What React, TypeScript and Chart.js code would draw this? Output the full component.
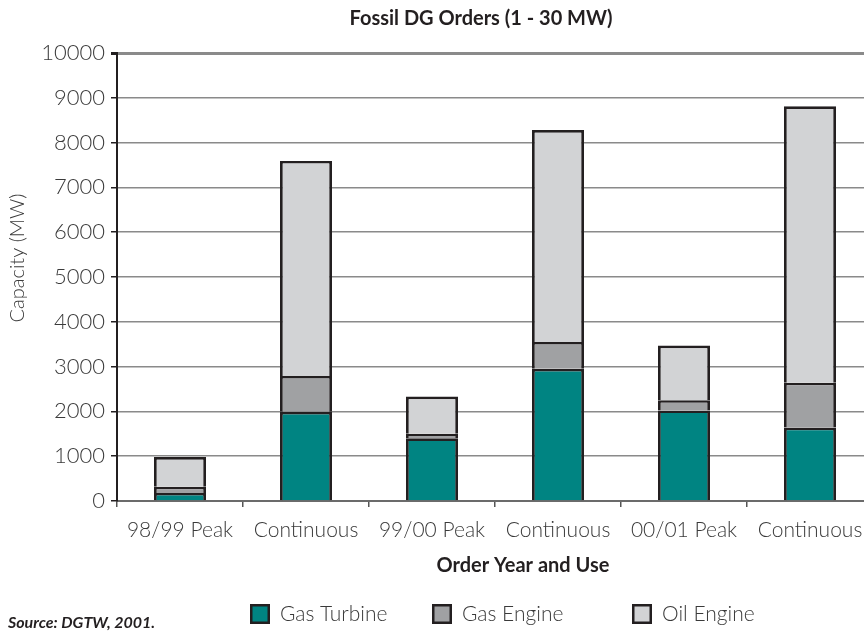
import React, { useEffect, useRef } from "react";
import { Chart, registerables } from "chart.js";

Chart.register(...registerables);

const categories = ["98/99 Peak", "Continuous", "99/00 Peak", "Continuous", "00/01 Peak", "Continuous"];
const gasTurbine = [180, 1990, 1400, 2950, 2020, 1640];
const gasEngine = [140, 800, 100, 600, 230, 1000];
const oilEngine = [660, 4800, 830, 4730, 1220, 6170];
const yTicks = [0, 1000, 2000, 3000, 4000, 5000, 6000, 7000, 8000, 9000, 10000];

const TEAL = "#008482";
const MID = "#a0a1a3";
const LIGHT = "#d2d3d5";
const EDGE = "#231f20";
const TXT = "#3a3a3a";
const FONT = "Lato, 'Open Sans', sans-serif";

const overlay = {
  id: "overlay",
  afterDraw(chart: any) {
    const ctx = chart.ctx;
    ctx.save();
    ctx.fillStyle = "#231f20";
    ctx.textBaseline = "middle";
    ctx.textAlign = "center";
    ctx.font = `bold 20px ${FONT}`;
    ctx.fillText("Fossil DG Orders (1 - 30 MW)", 481, 19);
    ctx.font = `bold 20px ${FONT}`;
    ctx.fillText("Order Year and Use", 523, 566);

    // y title
    ctx.save();
    ctx.translate(18, 258);
    ctx.rotate(-Math.PI / 2);
    ctx.fillStyle = TXT;
    ctx.font = `300 20px ${FONT}`;
    ctx.fillText("Capacity (MW)", 0, 0);
    ctx.restore();

    // legend
    const items = [
      { label: "Gas Turbine", color: TEAL, x: 250 },
      { label: "Gas Engine", color: MID, x: 432 },
      { label: "Oil Engine", color: LIGHT, x: 632 },
    ];
    ctx.textAlign = "left";
    ctx.font = `300 21px ${FONT}`;
    for (const it of items) {
      ctx.fillStyle = it.color;
      ctx.fillRect(it.x, 604, 20, 20);
      ctx.strokeStyle = EDGE;
      ctx.lineWidth = 2.5;
      ctx.strokeRect(it.x + 1.25, 605.25, 17.5, 17.5);
      ctx.fillStyle = TXT;
      ctx.fillText(it.label, it.x + 30, 614);
    }
    ctx.fillStyle = "#231f20";
    ctx.font = `italic bold 16px ${FONT}`;
    ctx.fillText("Source: DGTW, 2001.", 8, 623);
    ctx.restore();
  },
};

export default function App() {
  const ref = useRef<HTMLCanvasElement | null>(null);
  useEffect(() => {
    document.body.style.margin = "0";
    const ds = (label: string, data: number[], color: string) => ({
      label,
      data,
      backgroundColor: color,
      borderColor: EDGE,
      borderWidth: { top: 2.6, left: 2.8, right: 2.8, bottom: 0 },
      borderSkipped: false,
      inflateAmount: 0,
      categoryPercentage: 1,
      barPercentage: 0.413,
    });
    const chart = new Chart(ref.current as HTMLCanvasElement, {
      type: "bar",
      data: {
        labels: categories,
        datasets: [
          ds("Gas Turbine", gasTurbine, TEAL),
          ds("Gas Engine", gasEngine, MID),
          ds("Oil Engine", oilEngine, LIGHT),
        ],
      },
      options: {
        responsive: false,
        animation: false,
        layout: { padding: { top: 53, right: 7, left: 0, bottom: 0 } },
        plugins: { legend: { display: false }, tooltip: { enabled: false }, title: { display: false } },
        scales: {
          x: {
            stacked: true,
            grid: { display: true, drawOnChartArea: false, offset: true, tickLength: 6, tickColor: "#555", lineWidth: 1.5 },
            border: { display: true, color: "#6b6b6b", width: 2 },
            ticks: { color: TXT, font: { family: FONT, size: 21, weight: "300" }, padding: 11, maxRotation: 0, autoSkip: false },
            afterFit: (s: any) => { s.height = 131; },
          },
          y: {
            stacked: true,
            min: 0,
            max: 10000,
            afterBuildTicks: (s: any) => { s.ticks = yTicks.map((v) => ({ value: v })); },
            grid: {
              color: "#8a8a8a",
              lineWidth: (c: any) => (c.tick && c.tick.value === 10000 ? 3 : 1.5),
              tickLength: 6,
              tickColor: EDGE,
            },
            border: { display: true, color: EDGE, width: 2 },
            ticks: { color: TXT, font: { family: FONT, size: 22, weight: "300" }, padding: 6, callback: (v: any) => String(v) },
            title: { display: false },
            afterFit: (s: any) => { s.width = 117; },
          },
        },
      },
      plugins: [overlay],
    });
    return () => chart.destroy();
  }, []);
  return (
    <div style={{ position: "fixed", left: 0, top: 0, width: 864, height: 632, overflow: "hidden", background: "#fff" }}>
      <canvas ref={ref} width={880} height={632} style={{ display: "block" }} />
    </div>
  );
}
